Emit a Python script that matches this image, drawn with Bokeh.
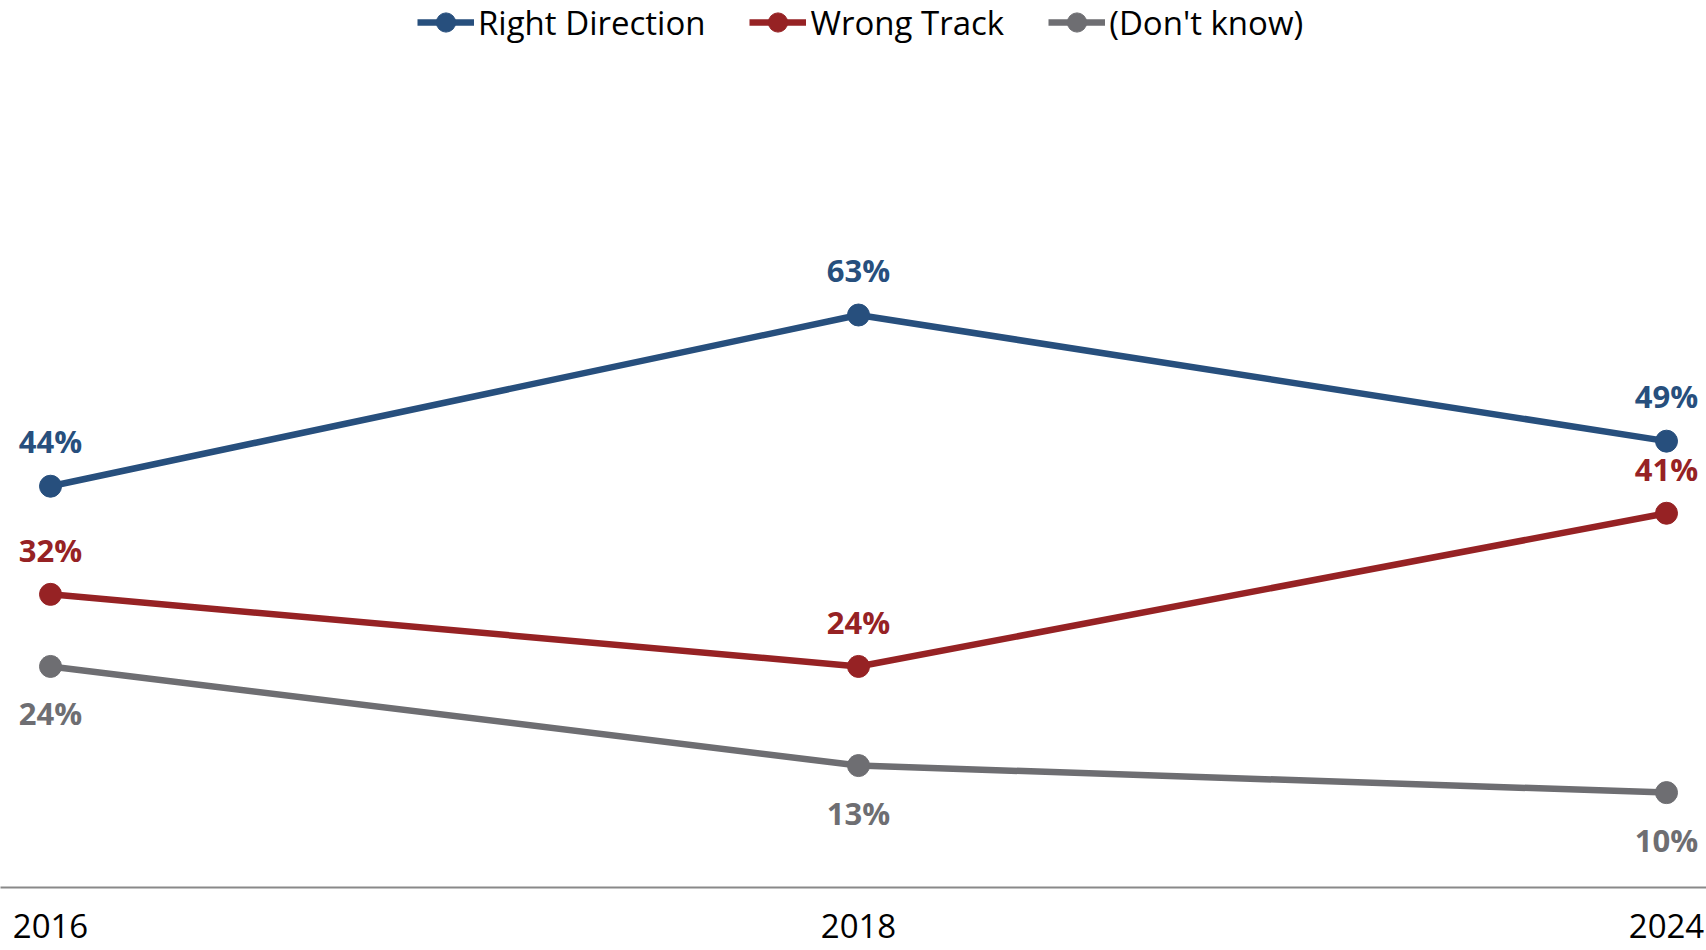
from bokeh.plotting import figure
from bokeh.models import Range1d, FixedTicker, Legend, LegendItem, ColumnDataSource
from bokeh.core.properties import value
from bokeh.embed import file_html
from bokeh.resources import INLINE

years = ["2016", "2018", "2024"]
right_direction = [44, 63, 49]
wrong_track = [32, 24, 41]
dont_know = [24, 13, 10]

series = [
    ("Right Direction", right_direction, "#274F7D", -45),
    ("Wrong Track", wrong_track, "#962224", -44),
    ("(Don't know)", dont_know, "#6E6E72", 47),
]

xs = list(range(len(years)))

p = figure(
    frame_width=1706, frame_height=887,
    x_range=Range1d(-0.0619, 2.0495), y_range=Range1d(-0.53, 97.9),
    output_backend="svg", toolbar_location=None,
    y_axis_location=None, min_border_left=0, min_border_right=0,
    min_border_top=0, min_border_bottom=63,
)
p.xgrid.visible = False
p.ygrid.visible = False
p.outline_line_color = None
p.background_fill_color = "white"

xa = p.xaxis[0]
xa.ticker = FixedTicker(ticks=xs)
xa.major_label_overrides = {i: y for i, y in enumerate(years)}
xa.major_tick_line_color = None
xa.minor_tick_line_color = None
xa.axis_line_color = "#898989"
xa.axis_line_width = 2
xa.major_label_text_font = "Open Sans"
xa.major_label_text_font_size = "33px"
xa.major_label_text_color = "#000000"
xa.major_label_standoff = 20

items = []
for name, vals, color, off in series:
    src = ColumnDataSource(dict(x=xs, y=vals, t=[f"{v}%" for v in vals]))
    ln = p.line("x", "y", source=src, line_color=color, line_width=6.5)
    sc = p.scatter("x", "y", source=src, size=22, fill_color=color, line_color=color)
    p.text("x", "y", text="t", source=src, y_offset=off,
           text_font=value("Open Sans"), text_font_style="bold",
           text_font_size="31px", text_color=color,
           text_align="center", text_baseline="middle")
    items.append(LegendItem(label=name, renderers=[ln, sc]))

legend = Legend(items=items, orientation="horizontal", location=(417, 841),
                label_text_font="Open Sans", label_text_font_size="33px",
                label_text_color="#000000", glyph_width=57, glyph_height=48,
                label_standoff=4, spacing=44, padding=0, margin=0,
                border_line_color=None, background_fill_alpha=0)
p.add_layout(legend)

open("out.html", "w").write(file_html(p, INLINE))
